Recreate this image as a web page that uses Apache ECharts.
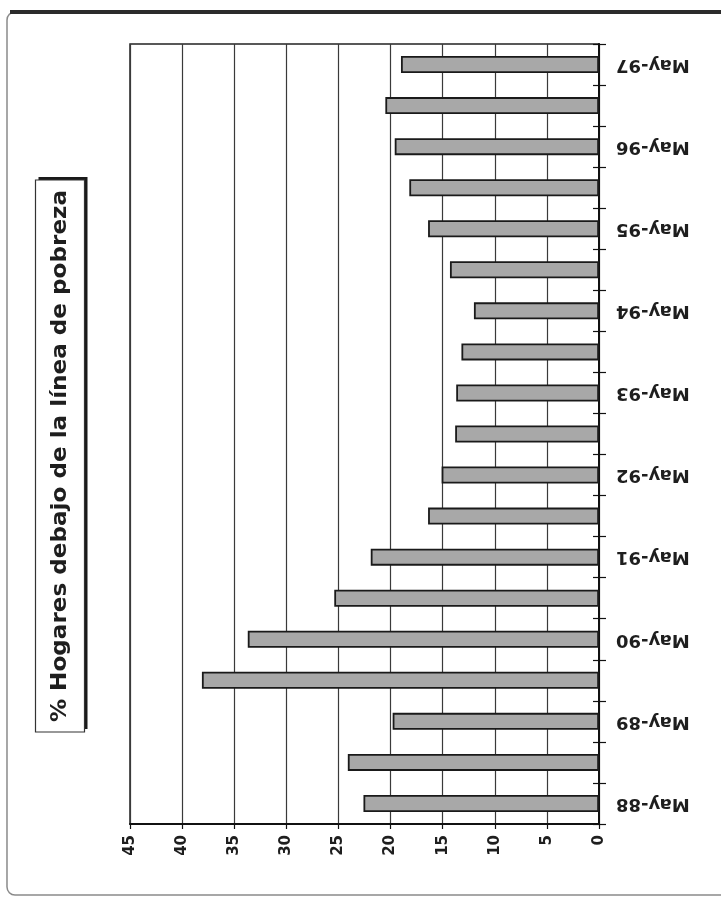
<!DOCTYPE html>
<html>
<head>
<meta charset="utf-8">
<script src="https://cdn.jsdelivr.net/npm/echarts@6/dist/echarts.min.js"></script>
<style>
  html, body { margin: 0; padding: 0; background: #ffffff; }
  #chart { width: 721px; height: 902px; }
</style>
</head>
<body>
<div id="chart"></div>
<script>
// Survey rounds (May / October) and share of households below the poverty line
const categories = [
  'May-88', 'Oct-88', 'May-89', 'Oct-89', 'May-90', 'Oct-90', 'May-91', 'Oct-91',
  'May-92', 'Oct-92', 'May-93', 'Oct-93', 'May-94', 'Oct-94', 'May-95', 'Oct-95',
  'May-96', 'Oct-96', 'May-97'
];
const pctHouseholds = [
  22.6, 24.1, 19.8, 38.1, 33.7, 25.4, 21.9, 16.4,
  15.1, 13.8, 13.7, 13.2, 12.0, 14.3, 16.4, 18.2,
  19.6, 20.5, 19.0
];
const valueMin = 0;
const valueMax = 45;
const valueStep = 5;
const titleText = '% Hogares debajo de la línea de pobreza';

const FONT = '"DejaVu Sans", Arial, sans-serif';
const INK = '#1e1e1e';

const chart = echarts.init(document.getElementById('chart'), null, { renderer: 'canvas' });

chart.setOption({
  backgroundColor: '#ffffff',
  animation: false,
  grid: {
    left: 130, right: 122, top: 44, bottom: 78,
    show: true, borderColor: '#222', borderWidth: 1.5, backgroundColor: 'transparent'
  },
  xAxis: {
    type: 'value',
    inverse: true,
    position: 'bottom',
    min: valueMin, max: valueMax, interval: valueStep,
    axisLine: { show: true, lineStyle: { color: '#111', width: 2 } },
    axisTick: { show: true, length: 5, lineStyle: { color: '#111', width: 1.2 } },
    splitLine: { show: true, lineStyle: { color: '#3a3a3a', width: 1.2 } },
    axisLabel: {
      rotate: 90, margin: 11,
      fontFamily: FONT, fontWeight: 'bold', fontSize: 15, color: INK
    }
  },
  yAxis: [
    {
      type: 'category',
      position: 'right',
      data: categories,
      boundaryGap: true,
      axisLine: { show: true, lineStyle: { color: '#111', width: 2 } },
      axisTick: { show: true, length: 7, interval: 0, lineStyle: { color: '#111', width: 1.2 } },
      axisLabel: {
        interval: 1, rotate: 180, margin: 17,
        fontFamily: FONT, fontWeight: 'bold', fontSize: 18, color: INK
      },
      splitLine: { show: false }
    },
    {
      // inner half of the crossing category ticks
      type: 'category',
      position: 'right',
      data: categories,
      boundaryGap: true,
      axisLine: { show: false },
      axisTick: { show: true, inside: true, length: 6, interval: 0, lineStyle: { color: '#111', width: 1.2 } },
      axisLabel: { show: false },
      splitLine: { show: false }
    }
  ],
  series: [{
    type: 'bar',
    yAxisIndex: 0,
    data: pctHouseholds,
    barWidth: 17,
    itemStyle: { color: '#a8a8a8', borderColor: '#1a1a1a', borderWidth: 1.8 }
  }],
  graphic: [
    {
      type: 'rect',
      shape: { x: 7, y: 12, width: 740, height: 883, r: 8 },
      style: { fill: 'none', stroke: '#8a8a8a', lineWidth: 1.5 },
      silent: true, z: -10
    },
    {
      type: 'line',
      shape: { x1: 10, y1: 12, x2: 721, y2: 12 },
      style: { stroke: '#2b2b2b', lineWidth: 4 },
      silent: true, z: -9
    },
    {
      type: 'group',
      x: 60, y: 456,
      rotation: Math.PI / 2,
      children: [
        {
          type: 'rect',
          shape: { x: -276 + 3, y: -24.5 + 3, width: 552, height: 49 },
          style: { fill: '#1a1a1a' }
        },
        {
          type: 'rect',
          shape: { x: -276, y: -24.5, width: 552, height: 49 },
          style: { fill: '#ffffff', stroke: '#333', lineWidth: 1.2 }
        },
        {
          type: 'text',
          x: 0, y: 1,
          scaleX: 1.1,
          style: {
            text: titleText,
            font: 'bold 21px ' + FONT,
            fill: INK,
            align: 'center',
            verticalAlign: 'middle'
          }
        }
      ]
    }
  ]
});
</script>
</body>
</html>
